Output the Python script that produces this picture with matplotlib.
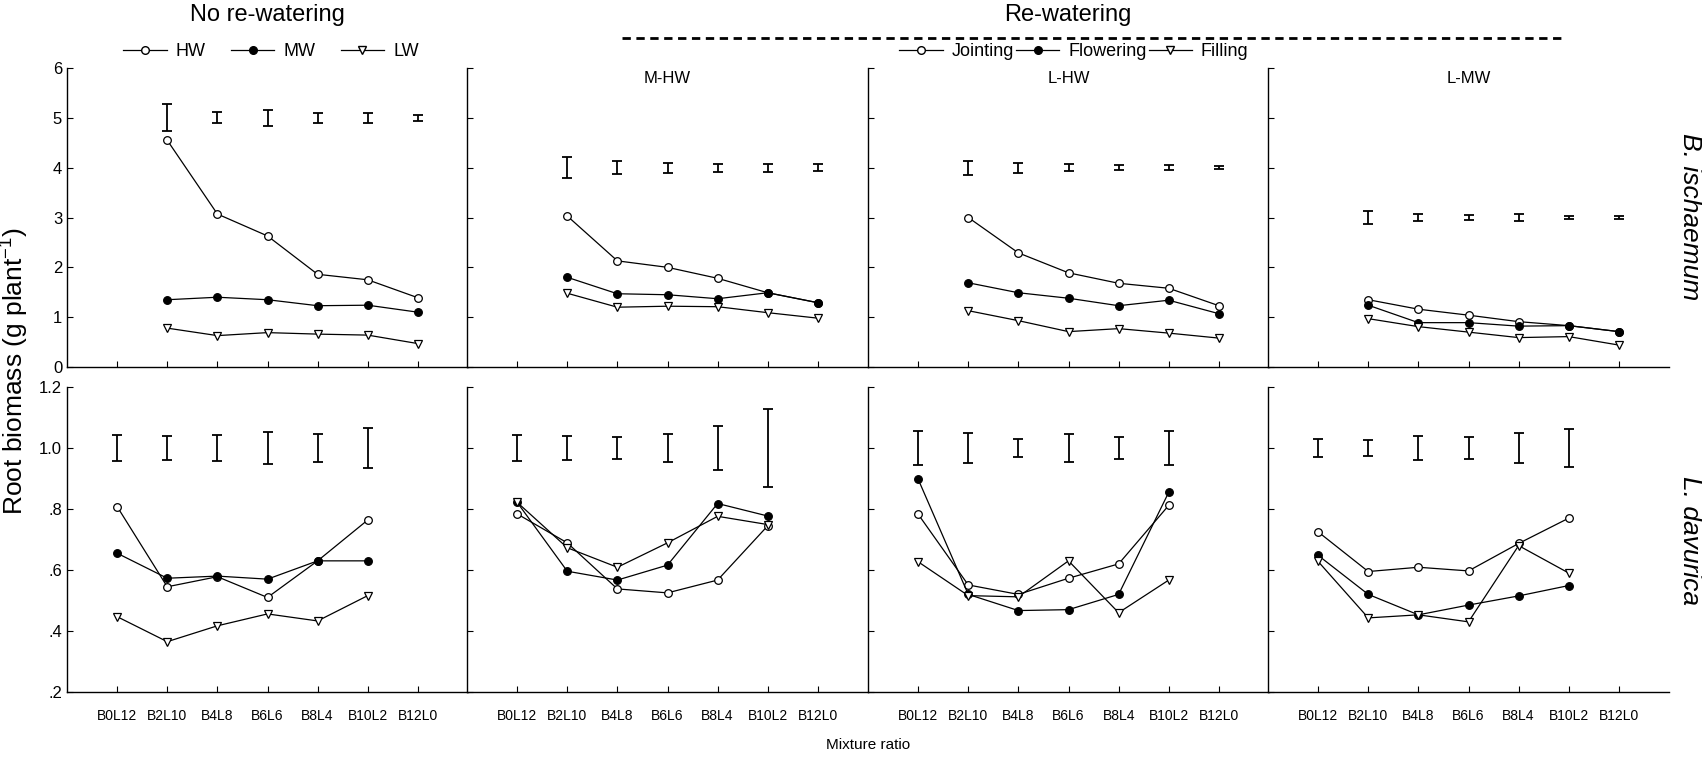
import matplotlib
matplotlib.use('Agg')
import matplotlib.pyplot as plt
from matplotlib.lines import Line2D

plt.rcParams['font.family'] = ['Liberation Sans', 'DejaVu Sans']
plt.rcParams['mathtext.fontset'] = 'custom'
plt.rcParams['mathtext.rm'] = 'Liberation Sans'

ratios = ['B0L12', 'B2L10', 'B4L8', 'B6L6', 'B8L4', 'B10L2', 'B12L0']
x_bi = [2, 3, 4, 5, 6, 7]   # B. ischaemum absent in B0L12
x_ld = [1, 2, 3, 4, 5, 6]   # L. davurica absent in B12L0

panel_titles = ['', 'M-HW', 'L-HW', 'L-MW']
labels_no = ['HW', 'MW', 'LW']
labels_re = ['Jointing', 'Flowering', 'Filling']

# B. ischaemum (top row)
hw_top = [4.55, 3.07, 2.63, 1.86, 1.75, 1.39]
mw_top = [1.35, 1.40, 1.35, 1.23, 1.24, 1.10]
lw_top = [0.78, 0.63, 0.69, 0.66, 0.64, 0.47]
mhw_j_top = [3.03, 2.13, 2.00, 1.78, 1.49, 1.29]
mhw_fl_top = [1.80, 1.47, 1.45, 1.37, 1.49, 1.29]
mhw_fi_top = [1.48, 1.20, 1.22, 1.21, 1.09, 0.98]
lhw_j_top = [3.00, 2.29, 1.89, 1.68, 1.58, 1.23]
lhw_fl_top = [1.69, 1.49, 1.38, 1.23, 1.34, 1.07]
lhw_fi_top = [1.13, 0.93, 0.71, 0.77, 0.68, 0.58]
lmw_j_top = [1.35, 1.16, 1.04, 0.91, 0.83, 0.71]
lmw_fl_top = [1.24, 0.89, 0.89, 0.82, 0.83, 0.71]
lmw_fi_top = [0.97, 0.81, 0.70, 0.59, 0.61, 0.44]

# L. davurica (bottom row)
hw_bot = [0.808, 0.545, 0.578, 0.510, 0.630, 0.764]
mw_bot = [0.655, 0.573, 0.580, 0.570, 0.630, 0.630]
lw_bot = [0.447, 0.365, 0.417, 0.456, 0.433, 0.516]
mhw_j_bot = [0.784, 0.689, 0.538, 0.525, 0.567, 0.745]
mhw_fl_bot = [0.822, 0.596, 0.567, 0.616, 0.818, 0.777]
mhw_fi_bot = [0.822, 0.673, 0.609, 0.689, 0.776, 0.749]
lhw_j_bot = [0.783, 0.551, 0.520, 0.573, 0.620, 0.812]
lhw_fl_bot = [0.898, 0.520, 0.467, 0.470, 0.520, 0.855]
lhw_fi_bot = [0.627, 0.516, 0.512, 0.630, 0.460, 0.567]
lmw_j_bot = [0.725, 0.595, 0.609, 0.597, 0.687, 0.770]
lmw_fl_bot = [0.648, 0.520, 0.453, 0.485, 0.515, 0.549]
lmw_fi_bot = [0.628, 0.443, 0.453, 0.430, 0.680, 0.590]

# LSD-type bars drawn at a fixed level
bar_level_top = [5, 4, 4, 3]
err_top = [[0.27, 0.11, 0.16, 0.10, 0.10, 0.06],
           [0.21, 0.13, 0.10, 0.08, 0.08, 0.07],
           [0.14, 0.10, 0.07, 0.05, 0.05, 0.03],
           [0.13, 0.07, 0.06, 0.065, 0.04, 0.04]]
bar_level_bot = 1.0
err_bot = [[0.043, 0.038, 0.043, 0.051, 0.045, 0.067],
           [0.042, 0.038, 0.035, 0.045, 0.072, 0.128],
           [0.055, 0.049, 0.030, 0.045, 0.037, 0.055],
           [0.031, 0.026, 0.039, 0.036, 0.049, 0.061]]

top_series = [[hw_top, mw_top, lw_top],
              [mhw_j_top, mhw_fl_top, mhw_fi_top],
              [lhw_j_top, lhw_fl_top, lhw_fi_top],
              [lmw_j_top, lmw_fl_top, lmw_fi_top]]
bot_series = [[hw_bot, mw_bot, lw_bot],
              [mhw_j_bot, mhw_fl_bot, mhw_fi_bot],
              [lhw_j_bot, lhw_fl_bot, lhw_fi_bot],
              [lmw_j_bot, lmw_fl_bot, lmw_fi_bot]]

styles = [dict(marker='o', mfc='white'),
          dict(marker='o', mfc='black'),
          dict(marker='v', mfc='white')]

W, H = 1702, 761
fig = plt.figure(figsize=(W / 100, H / 100), dpi=100)


def fx(px):
    return px / W


def fy(py):
    return 1 - py / H


lefts = [67, 467, 868, 1268]
pw = 401
top_ax = []
bot_ax = []
for i in range(4):
    a = fig.add_axes([fx(lefts[i]), fy(367), pw / W, (367 - 68) / H])
    b = fig.add_axes([fx(lefts[i]), fy(692), pw / W, (692 - 387) / H])
    top_ax.append(a)
    bot_ax.append(b)


def style_axis(ax, first):
    for s in ['top', 'right']:
        ax.spines[s].set_visible(False)
    ax.spines['left'].set_linewidth(1.0)
    ax.spines['bottom'].set_linewidth(1.0)
    ax.set_xlim(0, 8)
    ax.set_xticks(range(1, 8))
    ax.tick_params(direction='in', length=4, width=0.8, labelsize=12)
    if not first:
        ax.tick_params(axis='y', labelleft=False)


for i in range(4):
    a = top_ax[i]
    for ser, st in zip(top_series[i], styles):
        a.plot(x_bi, ser, color='black', lw=0.9, ms=5.5, mec='black', mew=0.9, **st)
    a.errorbar(x_bi, [bar_level_top[i]] * 6, yerr=err_top[i], fmt='none',
               ecolor='black', elinewidth=1.3, capsize=3.5, capthick=1.3)
    a.set_ylim(0, 6)
    a.set_yticks(range(0, 7))
    style_axis(a, i == 0)
    a.tick_params(axis='x', labelbottom=False)
    if panel_titles[i]:
        a.text(0.5, 0.965, panel_titles[i], transform=a.transAxes, ha='center',
               va='center', fontsize=12)

    b = bot_ax[i]
    for ser, st in zip(bot_series[i], styles):
        b.plot(x_ld, ser, color='black', lw=0.9, ms=5.5, mec='black', mew=0.9, **st)
    b.errorbar(x_ld, [bar_level_bot] * 6, yerr=err_bot[i], fmt='none',
               ecolor='black', elinewidth=1.3, capsize=3.5, capthick=1.3)
    b.set_ylim(0.2, 1.2)
    b.set_yticks([0.2, 0.4, 0.6, 0.8, 1.0, 1.2])
    b.set_yticklabels(['.2', '.4', '.6', '.8', '1.0', '1.2'])
    style_axis(b, i == 0)
    b.set_xticklabels(ratios, fontsize=10)
    b.tick_params(axis='x', pad=12)

# headers
fig.text(fx(267), fy(15), 'No re-watering', ha='center', va='center', fontsize=17)
fig.text(fx(1068), fy(15), 'Re-watering', ha='center', va='center', fontsize=17)
fig.add_artist(Line2D([fx(622), fx(1566)], [fy(38), fy(38)], color='black',
                      lw=2, ls=(0, (3, 2))))

# legends
h_no = [Line2D([], [], color='black', lw=0.9, ms=5.5, mec='black', **st) for st in styles]
fig.legend(h_no, labels_no, loc='center', bbox_to_anchor=(fx(271), fy(52)), ncol=3,
           frameon=False, fontsize=13, handlelength=2.4, handletextpad=0.5,
           columnspacing=1.4, borderpad=0)
fig.legend(h_no, labels_re, loc='center', bbox_to_anchor=(fx(1074), fy(52)), ncol=3,
           frameon=False, fontsize=13, handlelength=2.4, handletextpad=0.5,
           columnspacing=0.1, borderpad=0)

fig.text(fx(14), fy(371), 'Root biomass (g plant$^{-1}$)', rotation=90, ha='center',
         va='center', fontsize=19)
fig.text(fx(1690), fy(217), 'B. ischaemum', rotation=-90, ha='center', va='center',
         fontsize=19, style='italic')
fig.text(fx(1690), fy(540), 'L. davurica', rotation=-90, ha='center', va='center',
         fontsize=19, style='italic')
fig.text(fx(868), fy(745), 'Mixture ratio', ha='center', va='center', fontsize=11)

fig.savefig('out.png', dpi=100)
